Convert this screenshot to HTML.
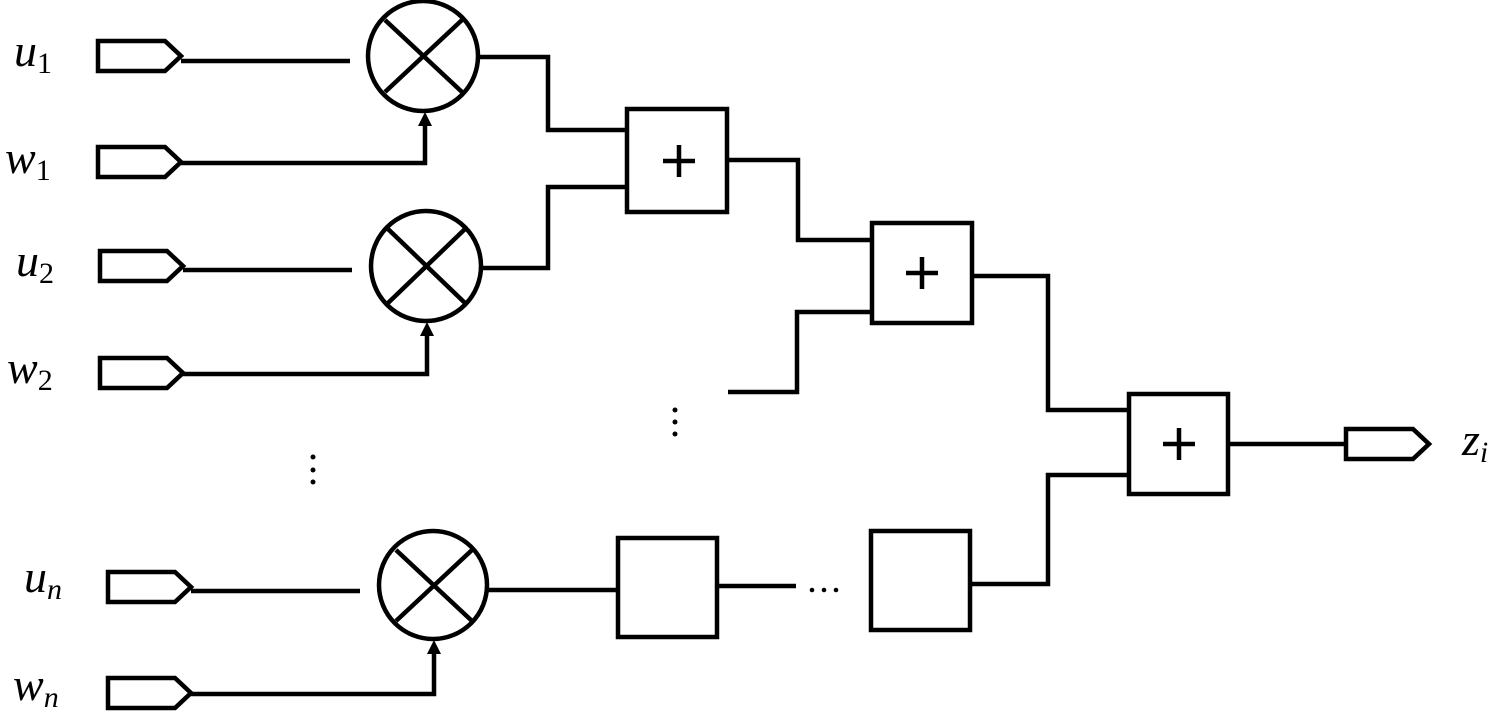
<!DOCTYPE html>
<html><head><style>body{margin:0;background:#fff}svg{display:block}
text{font-family:"Liberation Serif",serif;font-style:italic;fill:#000}</style></head>
<body>
<svg width="1505" height="713" viewBox="0 0 1505 713">
<g fill="none" stroke="#000" stroke-width="4.5">
<path d="M98 41H165L181 56L165 71H98Z"/>
<path d="M98 147H165L181 162L165 177H98Z"/>
<path d="M100 251H167L183 266L167 281H100Z"/>
<path d="M100 358H167L183 373L167 388H100Z"/>
<path d="M108 572H175L191 587L175 602H108Z"/>
<path d="M108 678H175L191 693L175 708H108Z"/>
<path d="M1346 429H1413L1429 444L1413 459H1346Z"/>
<circle cx="423" cy="56" r="55"/>
<path d="M385 20L462 92M462 20L385 92"/>
<circle cx="426" cy="266" r="55"/>
<path d="M388 229L465 303M465 229L388 303"/>
<circle cx="433" cy="585" r="54"/>
<path d="M396 550L472 621M472 550L396 621"/>
<path d="M181 61H350"/>
<path d="M181 163H425V120"/>
<path d="M183 270H352"/>
<path d="M183 374H427V330"/>
<path d="M191 591H360"/>
<path d="M191 694H434V648"/>
<rect x="627" y="109" width="100" height="103"/>
<rect x="872" y="223" width="100" height="100"/>
<rect x="1129" y="394" width="99" height="100"/>
<rect x="618" y="538" width="99" height="99"/>
<rect x="871" y="531" width="99" height="99"/>
<path d="M679 145V177M663 161H695"/>
<path d="M922 257V289M906 273H938"/>
<path d="M1179 428V460M1163 444H1195"/>
<path d="M478 57H548V130H627"/>
<path d="M481 268H548V187H627"/>
<path d="M727 160H798V240H872"/>
<path d="M728 392H797V312H872"/>
<path d="M972 276H1048V410H1129"/>
<path d="M970 584H1048V475H1129"/>
<path d="M1228 444H1346"/>
<path d="M487 590H618"/>
<path d="M717 586H796"/>
</g>
<g fill="#000">
<path d="M418 126L425 112L432 126Z"/>
<path d="M420 336L427 322L434 336Z"/>
<path d="M427 654L434 640L441 654Z"/>
<circle cx="675" cy="410" r="2.5"/><circle cx="675" cy="422" r="2.5"/><circle cx="675" cy="434" r="2.5"/>
<circle cx="313" cy="457" r="2.5"/><circle cx="313" cy="470" r="2.5"/><circle cx="313" cy="482" r="2.5"/>
<circle cx="812" cy="590" r="2.3"/><circle cx="824" cy="590" r="2.3"/><circle cx="836" cy="590" r="2.3"/>
</g>
<g font-size="46">
<text x="14" y="66">u<tspan font-size="30" font-style="normal" dy="7">1</tspan></text>
<text x="5" y="173">w<tspan font-size="30" font-style="normal" dy="7">1</tspan></text>
<text x="16" y="276">u<tspan font-size="30" font-style="normal" dy="7">2</tspan></text>
<text x="7" y="383">w<tspan font-size="30" font-style="normal" dy="7">2</tspan></text>
<text x="24" y="592">u<tspan font-size="30" dy="7">n</tspan></text>
<text x="13" y="700">w<tspan font-size="30" dy="7">n</tspan></text>
<text x="1462" y="455">z<tspan font-size="30" dy="7">i</tspan></text>
</g>
</svg>
</body></html>
